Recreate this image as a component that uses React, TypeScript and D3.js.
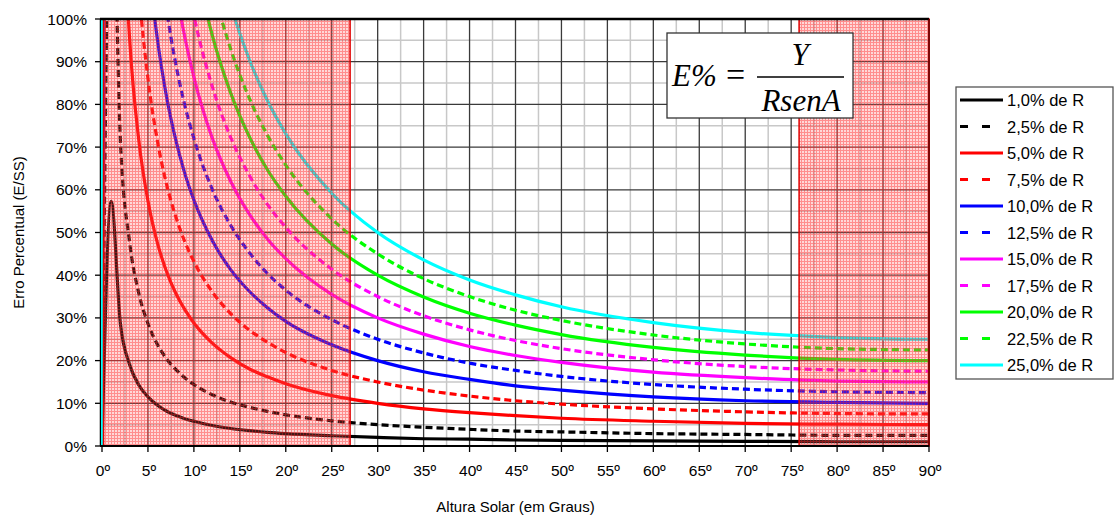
import React from 'react';
import * as d3 from 'd3';

// solar altitude (degrees) at which the curves were read
const angles = [0, 1, 2, 3, 4, 5, 6, 7, 8, 9, 10, 12, 14, 16, 18, 20, 25, 30, 35, 40, 45, 50, 60, 70, 80, 90];

// percentual error (%)
const err10 = [0, 57.3, 28.7, 19.1, 14.3, 11.5, 9.6, 8.2, 7.2, 6.4, 5.8, 4.8, 4.1, 3.6, 3.2, 2.9, 2.4, 2.0, 1.7, 1.6, 1.4, 1.3, 1.2, 1.1, 1.0, 1.0];
const err25 = [0, 143.2, 71.6, 47.8, 35.8, 28.7, 23.9, 20.5, 18.0, 16.0, 14.4, 12.0, 10.3, 9.1, 8.1, 7.3, 5.9, 5.0, 4.4, 3.9, 3.5, 3.3, 2.9, 2.7, 2.5, 2.5];
const err50 = [0, 286.5, 143.3, 95.6, 71.7, 57.4, 47.8, 41.0, 35.9, 32.0, 28.8, 24.1, 20.7, 18.1, 16.2, 14.6, 11.8, 10.0, 8.7, 7.8, 7.1, 6.5, 5.8, 5.3, 5.1, 5.0];
const err75 = [0, 429.8, 214.9, 143.3, 107.5, 86.1, 71.8, 61.5, 53.9, 47.9, 43.2, 36.1, 31.0, 27.2, 24.3, 21.9, 17.7, 15.0, 13.1, 11.7, 10.6, 9.8, 8.7, 8.0, 7.6, 7.5];
const err100 = [0, 573.0, 286.5, 191.1, 143.4, 114.7, 95.7, 82.1, 71.9, 63.9, 57.6, 48.1, 41.3, 36.3, 32.4, 29.2, 23.7, 20.0, 17.4, 15.6, 14.1, 13.1, 11.5, 10.6, 10.2, 10.0];
const err125 = [0, 716.2, 358.2, 238.9, 179.2, 143.4, 119.6, 102.6, 89.8, 79.9, 72.0, 60.1, 51.7, 45.4, 40.4, 36.5, 29.6, 25.0, 21.8, 19.4, 17.7, 16.3, 14.4, 13.3, 12.7, 12.5];
const err150 = [0, 859.5, 429.8, 286.6, 215.0, 172.1, 143.5, 123.1, 107.8, 95.9, 86.4, 72.1, 62.0, 54.4, 48.5, 43.9, 35.5, 30.0, 26.2, 23.3, 21.2, 19.6, 17.3, 16.0, 15.2, 15.0];
const err175 = [0, 1002.7, 501.4, 334.4, 250.9, 200.8, 167.4, 143.6, 125.7, 111.8, 100.8, 84.2, 72.3, 63.5, 56.6, 51.2, 41.4, 35.0, 30.5, 27.2, 24.7, 22.8, 20.2, 18.6, 17.8, 17.5];
const err200 = [0, 1146.0, 573.0, 382.2, 286.8, 229.5, 191.4, 164.1, 143.7, 127.8, 115.2, 96.2, 82.7, 72.6, 64.7, 58.5, 47.3, 40.0, 34.9, 31.1, 28.3, 26.1, 23.1, 21.3, 20.3, 20.0];
const err225 = [0, 1289.3, 644.7, 430.0, 322.6, 258.2, 215.3, 184.6, 161.7, 143.8, 129.6, 108.2, 93.0, 81.6, 72.8, 65.8, 53.2, 45.0, 39.2, 35.0, 31.8, 29.4, 26.0, 23.9, 22.8, 22.5];
const err250 = [0, 1432.5, 716.3, 477.8, 358.4, 286.8, 239.2, 205.1, 179.6, 159.8, 144.0, 120.2, 103.3, 90.7, 80.9, 73.1, 59.2, 50.0, 43.6, 38.9, 35.4, 32.6, 28.9, 26.6, 25.4, 25.0];

const seriesNames = ['1,0% de R', '2,5% de R', '5,0% de R', '7,5% de R', '10,0% de R', '12,5% de R', '15,0% de R', '17,5% de R', '20,0% de R', '22,5% de R', '25,0% de R'];
const seriesValues = [err10, err25, err50, err75, err100, err125, err150, err175, err200, err225, err250];
const seriesColors = ['#000000', '#000000', '#ff0000', '#ff0000', '#0000ff', '#0000ff', '#ff00ff', '#ff00ff', '#00ff00', '#00ff00', '#00ffff'];
const seriesDashed = [false, true, false, true, false, true, false, true, false, true, false];

const xTicks = [0, 5, 10, 15, 20, 25, 30, 35, 40, 45, 50, 55, 60, 65, 70, 75, 80, 85, 90];
const xMinor = [2.5, 7.5, 12.5, 17.5, 22.5, 27.5, 32.5, 37.5, 42.5, 47.5, 52.5, 57.5, 62.5, 67.5, 72.5, 77.5, 82.5, 87.5];
const yTicks = [0, 10, 20, 30, 40, 50, 60, 70, 80, 90, 100];
const yMinor = [5, 15, 25, 35, 45, 55, 65, 75, 85, 95];

// shaded ranges (degrees)
const zones = [[0, 27], [75.7, 90]];

const W = 1116, H = 518;
const plot = { left: 102, right: 929, top: 19, bottom: 446 };

export default function App() {
  const x = d3.scaleLinear().domain([0, 90]).range([plot.left, plot.right]);
  const y = d3.scaleLinear().domain([0, 100]).range([plot.bottom, plot.top]);

  const line = d3.line<number>()
    .x((d, i) => x(angles[i]))
    .y((d) => y(d))
    .curve(d3.curveMonotoneX);

  const font = 'Liberation Sans, Arial, sans-serif';
  const serif = 'Liberation Serif, Times New Roman, serif';

  return (
    <svg width={W} height={H} style={{ position: 'absolute', left: 0, top: 0, background: '#fff' }}>
      <defs>
        <clipPath id="plotClip">
          <rect x={plot.left - 1} y={plot.top} width={plot.right - plot.left + 1} height={plot.bottom - plot.top} />
        </clipPath>
        <pattern id="pinkGrid" width={3} height={3} patternUnits="userSpaceOnUse">
          <rect x={0} y={0} width={3} height={3} fill="rgba(255,100,100,0.25)" />
          <rect x={0} y={0} width={3} height={1} fill="rgba(255,30,30,0.4)" />
          <rect x={0} y={1} width={1} height={2} fill="rgba(255,30,30,0.4)" />
        </pattern>
      </defs>

      {/* grid */}
      <g>
        {xMinor.map((t) => (
          <line key={'xm' + t} x1={x(t)} x2={x(t)} y1={plot.top} y2={plot.bottom} stroke="#c8c8c8" strokeWidth={1.5} />
        ))}
        {yMinor.map((t) => (
          <line key={'ym' + t} x1={plot.left} x2={plot.right} y1={y(t)} y2={y(t)} stroke="#c8c8c8" strokeWidth={1.5} />
        ))}
        {xTicks.map((t) => (
          <line key={'xg' + t} x1={x(t)} x2={x(t)} y1={plot.top} y2={plot.bottom} stroke="#3a3a3a" strokeWidth={1.3} />
        ))}
        {yTicks.map((t) => (
          <line key={'yg' + t} x1={plot.left} x2={plot.right} y1={y(t)} y2={y(t)} stroke="#3a3a3a" strokeWidth={1.3} />
        ))}
      </g>

      {/* y axis line sits just left of the curves */}
      <line x1={plot.left - 1.5} x2={plot.left - 1.5} y1={plot.top} y2={plot.bottom} stroke="#000" strokeWidth={1.5} />

      {/* curves */}
      <g clipPath="url(#plotClip)">
        {seriesValues.map((vals, i) => (
          <path
            key={seriesNames[i]}
            d={line(vals) || ''}
            fill="none"
            stroke={seriesColors[i]}
            strokeWidth={3.2}
            strokeDasharray={seriesDashed[i] ? '7,4' : undefined}
          />
        ))}
      </g>

      {/* shaded zones */}
      {zones.map(([a, b]) => (
        <rect
          key={'z' + a}
          x={x(a) + 1.5}
          y={plot.top}
          width={x(b) - x(a) - 1.5}
          height={plot.bottom - plot.top}
          fill="url(#pinkGrid)"
          stroke="#e00000"
          strokeWidth={1.5}
        />
      ))}

      {/* frame and axes */}
      <line x1={plot.left - 2} x2={plot.right} y1={plot.top} y2={plot.top} stroke="#000" strokeWidth={2.5} />
      <line x1={plot.right} x2={plot.right} y1={plot.top} y2={plot.bottom} stroke="#600" strokeWidth={1.5} />
      <line x1={plot.left - 2} x2={plot.right} y1={plot.bottom} y2={plot.bottom} stroke="#000" strokeWidth={2} />

      {yTicks.map((t) => (
        <g key={'yt' + t}>
          <line x1={plot.left - 7} x2={plot.left - 1} y1={y(t)} y2={y(t)} stroke="#000" strokeWidth={1.3} />
          <text x={plot.left - 15} y={y(t) + 5.5} textAnchor="end" fontFamily={font} fontSize={15.5} fill="#000">
            {t + '%'}
          </text>
        </g>
      ))}
      {xTicks.map((t) => (
        <g key={'xt' + t}>
          <line x1={x(t)} x2={x(t)} y1={plot.bottom} y2={plot.bottom + 6} stroke="#000" strokeWidth={1.3} />
          <text x={x(t) + 1} y={plot.bottom + 30} textAnchor="middle" fontFamily={font} fontSize={15.5} fill="#000">
            {t + 'º'}
          </text>
        </g>
      ))}

      <text x={(plot.left + plot.right) / 2} y={512} textAnchor="middle" fontFamily={font} fontSize={15} fill="#000">
        Altura Solar (em Graus)
      </text>
      <text
        transform={`translate(24,${(plot.top + plot.bottom) / 2}) rotate(-90)`}
        textAnchor="middle"
        fontFamily={font}
        fontSize={15}
        fill="#000"
      >
        Erro Percentual (E/SS)
      </text>

      {/* formula box */}
      <g>
        <rect x={667} y={33} width={186} height={85} fill="#fff" stroke="#333" strokeWidth={1.3} />
        <text x={672} y={86} fontFamily={serif} fontStyle="italic" fontSize={31} fill="#000">
          E%
        </text>
        <text x={726} y={86} fontFamily={serif} fontSize={34} fill="#000">
          =
        </text>
        <line x1={757} x2={844} y1={77} y2={77} stroke="#000" strokeWidth={1.5} />
        <text x={800} y={65} textAnchor="middle" fontFamily={serif} fontStyle="italic" fontSize={31} fill="#000">
          Y
        </text>
        <text x={801} y={111} textAnchor="middle" fontFamily={serif} fontStyle="italic" fontSize={31} fill="#000">
          RsenA
        </text>
      </g>

      {/* legend */}
      <g>
        <rect x={956} y={87} width={157} height={292} fill="#fff" stroke="#555" strokeWidth={1.3} />
        {seriesNames.map((name, i) => {
          const cy = 100 + i * 26.5;
          return (
            <g key={'lg' + name}>
              <line
                x1={960}
                x2={1003}
                y1={cy}
                y2={cy}
                stroke={seriesColors[i]}
                strokeWidth={3.2}
                strokeDasharray={seriesDashed[i] ? '8,14' : undefined}
              />
              <text x={1007} y={cy + 6} fontFamily={font} fontSize={16.5} fill="#000">
                {name}
              </text>
            </g>
          );
        })}
      </g>
    </svg>
  );
}
